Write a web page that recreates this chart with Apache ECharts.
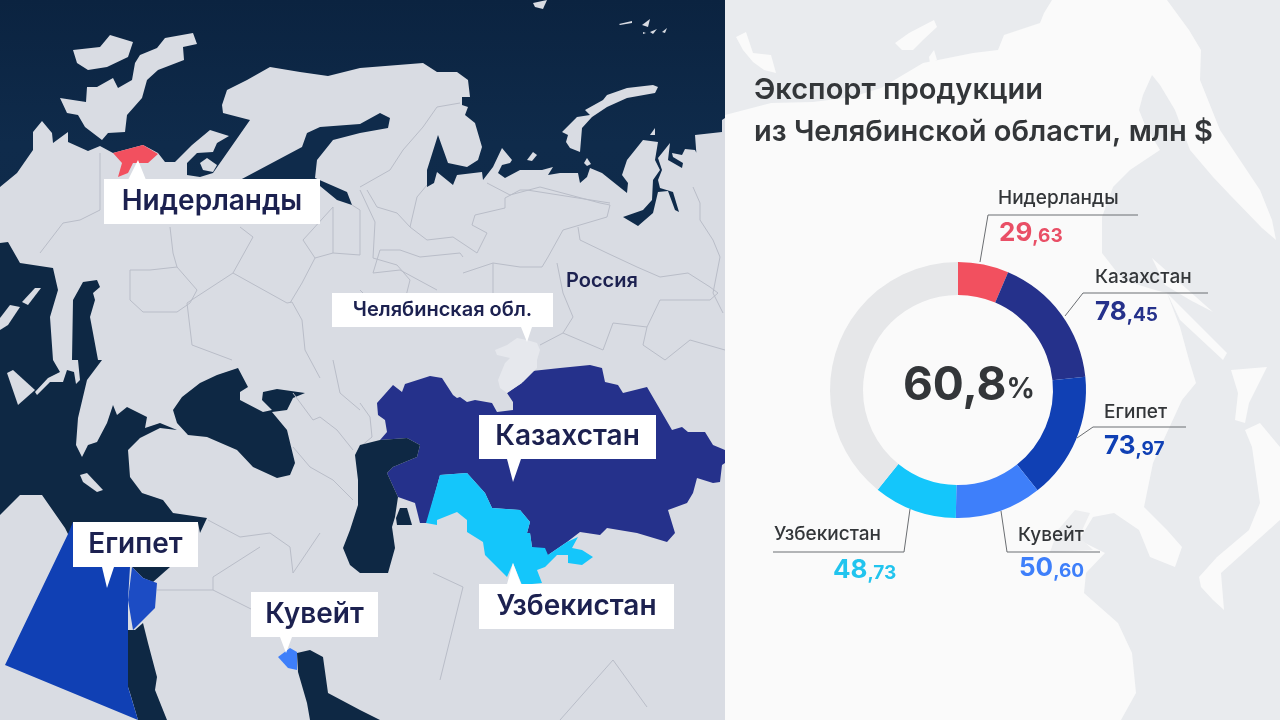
<!DOCTYPE html>
<html>
<head>
<meta charset="utf-8">
<style>html,body{margin:0;padding:0;background:#fafafa}#chart{width:1280px;height:720px}</style>
<script src="https://cdn.jsdelivr.net/npm/echarts@6/dist/echarts.min.js"></script>
</head>
<body>
<div id="chart"></div>
<script>
// значения диаграммы
var countries = ['Нидерланды', 'Казахстан', 'Египет', 'Кувейт', 'Узбекистан'];
var exportValues = [29.63, 78.45, 73.97, 50.60, 48.73];
var restValue = 181.42;
var shareText = '60,8';
var sliceColors = ['#f2505f', '#25318b', '#1040b4', '#3e7ffa', '#14c6fb'];
var valueColors = ['#e94f66', '#25318b', '#1040b4', '#3e7ffa', '#21c4ee'];

var FONT = 'Inter, "Noto Sans", sans-serif';
var SEA = '#0f2b4b', LAND = '#d9dce3', EDGE = '#b9bdc8', INK = '#1c2150', GREY = '#333639';

// подпись и выноска для каждого сегмента: [x, y] подписи, [x, y] значения, линия
var callouts = [
  { name: [998, 198], value: [999, 233], line: [[980, 262], [988, 215], [1138, 215]] },
  { name: [1095, 277], value: [1095, 312], line: [[1065, 316], [1083, 293], [1208, 293]] },
  { name: [1104, 412], value: [1104, 446], line: [[1077, 438], [1093, 427], [1186, 427]] },
  { name: [1018, 535], value: [1019, 568], line: [[1001, 511], [1007, 552], [1100, 552]] },
  { name: [774, 534], value: [833, 570], line: [[910, 509], [904, 552], [773, 552]] }
];

var els = [];
function poly(points, fill) {
  els.push({ type: 'polygon', silent: true, shape: { points: points }, style: { fill: fill } });
}
function border(points, color) {
  els.push({ type: 'polyline', silent: true, shape: { points: points },
    style: { stroke: color || EDGE, lineWidth: 1, fill: null } });
}
function rect(x, y, w, h, fill) {
  els.push({ type: 'rect', silent: true, shape: { x: x, y: y, width: w, height: h }, style: { fill: fill } });
}
function text(str, x, y, size, weight, color, align) {
  els.push({ type: 'text', silent: true, x: x, y: y, style: { text: str, fill: color, font: weight + ' ' + size + 'px ' + FONT,
    textAlign: align || 'left', textVerticalAlign: 'middle' } });
}
function tag(str, x, y, w, h, size, pointer) {
  rect(x, y, w, h, '#ffffff');
  poly(pointer, '#ffffff');
  text(str, x + w / 2, y + h / 2, size, 600, INK, 'center');
}

// правая панель: светлая подложка карты
rect(725, 0, 555, 720, '#e9ebee');
poly([[725,115],[771,103],[813,102],[852,97],[881,88],[923,63],[973,53],[998,50],[1004,35],[1040,23],[1044,13],[1052,0],[1167,0],[1189,30],[1201,50],[1200,80],[1220,130],[1260,190],[1272,220],[1276,240],[1262,228],[1230,195],[1213,177],[1190,150],[1175,110],[1160,85],[1152,75],[1143,95],[1139,110],[1145,125],[1160,150],[1130,170],[1113,187],[1102,217],[1102,253],[1123,280],[1155,290],[1167,293],[1180,327],[1189,360],[1196,383],[1182,400],[1153,463],[1144,507],[1167,530],[1182,547],[1175,567],[1150,557],[1139,530],[1114,513],[1093,517],[1079,540],[1105,553],[1086,573],[1084,593],[1118,623],[1132,653],[1136,693],[1121,720],[725,720]], '#fafafa');
poly([[1075,510],[1090,513],[1079,537],[1093,550],[1050,552],[1058,530]], '#edeef0');
poly([[1152,258],[1213,312],[1190,300],[1165,285]], '#fafafa');
poly([[1167,293],[1227,353],[1223,360],[1180,320]], '#fafafa');
poly([[1231,370],[1267,367],[1249,403],[1245,423],[1235,420],[1238,393]], '#fafafa');
poly([[1199,577],[1217,557],[1249,530],[1260,503],[1252,447],[1245,430],[1260,423],[1280,447],[1280,520],[1221,573],[1224,610],[1213,600],[1201,587]], '#fafafa');
poly([[736,37],[746,32],[753,53],[771,55],[776,73],[764,70],[753,62],[743,50]], '#fafafa');
poly([[895,43],[909,33],[934,20],[937,27],[923,40],[913,50],[902,50]], '#fafafa');
poly([[929,57],[934,50],[937,60],[930,63]], '#fafafa');

// левая панель: море и суша
els.push({ type: 'rect', silent: true, shape: { x: 0, y: 0, width: 725, height: 720 }, style: {
  fill: new echarts.graphic.LinearGradient(0, 0, 0, 1, [
    { offset: 0, color: '#0b2340' }, { offset: 0.2, color: SEA }, { offset: 1, color: '#0e2743' }]) } });
poly([[0,187],[17,173],[33,150],[33,132],[42,121],[52,133],[53,143],[68,132],[68,142],[88,151],[100,146],[113,153],[143,145],[158,153],[165,162],[175,162],[192,145],[210,130],[229,136],[217,143],[213,152],[197,153],[187,163],[187,175],[200,177],[213,173],[250,120],[223,113],[222,105],[227,90],[247,80],[270,67],[300,72],[328,76],[360,68],[423,63],[437,72],[457,72],[468,80],[470,97],[462,97],[462,105],[468,107],[465,115],[475,123],[482,147],[478,160],[467,167],[448,163],[438,135],[427,170],[427,187],[434,183],[437,172],[453,185],[457,175],[482,172],[483,180],[493,167],[502,148],[512,160],[510,163],[502,165],[498,173],[505,178],[520,170],[542,170],[553,167],[548,175],[560,173],[578,173],[580,183],[587,177],[590,168],[602,173],[627,193],[628,183],[622,175],[627,160],[643,140],[658,142],[655,160],[660,170],[653,180],[652,200],[643,210],[623,217],[638,226],[653,213],[658,192],[668,191],[675,210],[679,212],[673,192],[660,188],[658,180],[662,170],[658,158],[670,143],[668,160],[682,168],[683,163],[673,157],[672,153],[682,155],[685,149],[695,150],[700,160],[703,177],[698,175],[695,135],[722,132],[722,120],[725,118],[725,720],[0,720]], LAND);

// внутренние моря
poly([[302,147],[307,133],[320,127],[360,124],[380,113],[390,118],[388,128],[360,133],[333,140],[317,160],[315,178],[347,192],[352,205],[337,200],[320,186],[300,200],[240,180]], SEA);
poly([[0,243],[8,242],[20,263],[53,268],[58,290],[50,317],[53,360],[72,360],[73,300],[83,282],[97,280],[100,287],[93,293],[95,300],[90,317],[93,333],[98,360],[102,360],[87,380],[78,418],[76,445],[82,457],[88,445],[97,442],[107,423],[113,405],[117,415],[127,407],[147,417],[145,428],[160,423],[177,430],[160,428],[140,438],[128,450],[130,477],[142,493],[163,500],[173,513],[207,518],[200,533],[198,523],[198,567],[130,567],[68,534],[65,528],[42,495],[20,495],[0,515]], '#0e2844');
poly([[53,360],[78,360],[80,380],[76,384],[74,372],[67,370],[63,382],[50,382],[37,395],[35,392],[48,378],[60,372]], LAND);
poly([[7,373],[13,370],[35,390],[18,405]], LAND);
poly([[80,475],[87,473],[103,490],[97,492],[83,482]], LAND);
poly([[22,302],[35,288],[41,288],[28,305]], LAND);
poly([[0,318],[10,305],[20,307],[8,325],[0,330]], LAND);
poly([[173,410],[182,397],[200,383],[217,375],[238,368],[248,387],[240,392],[240,400],[263,412],[272,410],[262,400],[263,392],[277,389],[305,393],[293,398],[287,410],[272,412],[287,430],[295,463],[290,475],[277,478],[253,467],[237,450],[207,437],[188,435],[177,423]], '#0e2844');
poly([[132,567],[170,567],[153,582],[143,578]], '#0e2844');
poly([[128,630],[135,630],[143,623],[148,643],[157,677],[155,690],[167,720],[138,720],[130,693],[128,687]], '#0e2844');
poly([[297,653],[310,650],[323,657],[328,693],[360,710],[380,720],[310,720],[307,703],[298,672]], '#0e2844');

// острова
poly([[73,50],[100,47],[110,35],[133,42],[128,57],[107,67],[88,70],[77,63]], LAND);
poly([[60,98],[86,102],[87,87],[97,87],[113,78],[118,88],[132,80],[135,63],[140,55],[157,48],[165,38],[193,33],[197,44],[183,47],[184,60],[158,70],[147,80],[142,98],[127,115],[125,132],[108,133],[102,140],[85,127],[78,115],[67,113]], LAND);
poly([[200,163],[207,158],[217,165],[213,172],[203,170]], LAND);
poly([[562,132],[577,117],[590,115],[585,110],[603,100],[607,95],[627,88],[653,85],[658,87],[655,93],[627,98],[607,107],[592,117],[582,128],[580,152],[570,148],[566,142],[568,135]], LAND);
poly([[533,3],[547,0],[543,9],[535,7]], LAND);
poly([[619,24],[632,21],[632,23],[620,25]], LAND);
poly([[642,25],[650,19],[648,27]], LAND);
poly([[643,32],[646,33],[643,34]], LAND);
poly([[650,32],[657,29],[653,34]], LAND);
poly([[662,32],[667,28],[665,33]], LAND);
poly([[527,160],[533,152],[537,155],[532,161]], LAND);
poly([[584,163],[587,158],[591,164],[587,166]], LAND);
poly([[650,135],[655,128],[655,135]], LAND);

// границы регионов
[
  [[100,153],[100,210],[80,220],[63,223],[40,253]],
  [[170,227],[173,253],[177,267],[197,290],[190,303],[177,312],[143,312],[130,300],[130,270],[150,270],[177,267]],
  [[240,227],[253,237],[233,273],[187,303],[192,345],[232,360]],
  [[233,273],[287,303],[292,302],[302,320],[305,350],[320,378]],
  [[290,303],[302,283],[315,258],[303,240],[333,207],[333,253],[315,258]],
  [[333,253],[360,255],[360,210],[352,205]],
  [[360,190],[375,222],[373,258],[397,265],[410,280],[405,300],[375,305],[360,290]],
  [[360,187],[390,170],[403,150],[423,127],[437,107],[460,103]],
  [[367,190],[377,207],[397,213],[410,227],[417,197],[427,185]],
  [[410,227],[427,240],[453,237],[477,253],[487,233],[472,225],[475,215],[505,208],[505,198],[520,190],[527,190],[610,203]],
  [[487,183],[510,195],[540,187],[600,203],[610,205],[607,217],[563,230],[548,257],[542,267],[520,267],[493,263],[493,293]],
  [[463,257],[460,253],[420,257],[400,250],[380,250],[373,273],[400,270],[437,290]],
  [[463,273],[493,263]],
  [[578,227],[580,240],[607,253],[637,267],[660,277],[688,273],[710,287],[718,293],[710,300],[660,300],[647,327],[613,323],[603,350],[563,333],[573,317],[563,293],[557,263]],
  [[693,187],[700,203],[700,220],[713,240],[720,257],[713,293],[723,313]],
  [[540,345],[563,333]],
  [[647,327],[643,345],[665,360],[690,340],[725,350]],
  [[293,447],[310,467],[333,480],[353,500]],
  [[293,393],[313,420],[320,417],[337,430],[353,450]],
  [[333,360],[340,393],[360,410]],
  [[208,520],[240,537],[270,533],[290,547],[293,573],[320,533]],
  [[213,590],[213,577],[260,547]],
  [[213,590],[253,610]],
  [[157,590],[213,590]],
  [[360,403],[370,417],[372,437],[360,447]],
  [[440,680],[463,587],[433,573]],
  [[560,720],[613,660],[647,707]]
].forEach(function (p) { border(p); });

// выделенные страны
poly([[113,153],[143,145],[158,154],[148,163],[133,163],[128,173],[118,177],[122,163]], sliceColors[0]);
poly([[377,403],[393,385],[402,392],[405,384],[430,376],[442,378],[453,395],[457,398],[460,397],[467,402],[475,400],[492,403],[497,412],[513,410],[513,402],[507,393],[522,383],[523,372],[560,368],[590,365],[602,368],[605,382],[618,385],[623,393],[647,387],[672,430],[682,427],[688,432],[705,432],[713,445],[725,450],[725,463],[722,465],[720,482],[713,483],[697,478],[693,493],[687,503],[668,510],[675,533],[667,542],[637,533],[607,528],[600,535],[580,532],[567,542],[548,555],[545,555],[532,547],[530,533],[527,533],[530,522],[520,510],[492,508],[485,493],[467,473],[440,475],[427,523],[420,523],[415,503],[398,497],[387,473],[393,467],[417,457],[420,445],[407,438],[380,440],[387,432],[385,420],[378,415]], sliceColors[1]);
poly([[440,475],[467,473],[485,493],[492,508],[520,510],[530,522],[527,533],[530,533],[532,547],[545,548],[548,555],[567,542],[578,537],[572,548],[582,550],[593,557],[582,565],[568,563],[568,555],[557,555],[545,567],[537,570],[542,583],[522,585],[513,563],[507,577],[485,555],[483,542],[467,532],[467,520],[457,512],[437,520],[437,525],[426,523]], sliceColors[4]);
poly([[396,518],[400,508],[407,508],[412,525],[397,525]], '#0e2844');
poly([[360,445],[380,440],[407,438],[420,445],[417,457],[393,467],[387,473],[398,497],[395,517],[392,527],[395,548],[388,573],[360,573],[350,565],[343,548],[350,530],[358,505],[358,480],[355,455]], '#0e2844');
poly([[68,534],[73,522],[130,567],[128,600],[128,687],[138,720],[5,665]], sliceColors[2]);
poly([[132,567],[143,578],[157,583],[155,608],[133,630],[128,600]], '#1c4cc4');
poly([[278,657],[290,648],[297,652],[297,670],[288,668]], sliceColors[3]);
poly([[495,350],[507,345],[517,338],[527,340],[537,343],[540,350],[537,360],[537,368],[523,382],[507,393],[500,388],[498,380],[505,363],[510,358],[497,355]], '#e6e8ed');

// плашки на карте
tag('Нидерланды', 104, 179, 216, 45, 28, [[128,180],[146,180],[138,160]]);
tag('Египет', 73, 522, 125, 45, 28, [[102,567],[114,567],[107,588]]);
tag('Кувейт', 251, 592, 127, 45, 28, [[280,637],[292,637],[286,653]]);
tag('Казахстан', 479, 415, 177, 44, 28, [[507,459],[521,459],[513,482]]);
tag('Узбекистан', 479, 584, 195, 45, 28, [[507,584],[521,584],[513,563]]);
tag('Челябинская обл.', 332, 293, 221, 34, 20, [[521,327],[532,327],[527,342]]);
text('Россия', 566, 281, 20, 600, INK);

// подписи сегментов
countries.forEach(function (name, i) {
  var c = callouts[i];
  var parts = exportValues[i].toFixed(2).split('.');
  border(c.line, '#6b6e72');
  text(name, c.name[0], c.name[1], 19, 500, GREY);
  els.push({ type: 'text', silent: true, x: c.value[0], y: c.value[1], style: {
    text: '{a|' + parts[0] + '}{b|,' + parts[1] + '}', textVerticalAlign: 'middle', fill: valueColors[i],
    rich: {
      a: { font: '700 26px ' + FONT, fill: valueColors[i] },
      b: { font: '700 19px ' + FONT, fill: valueColors[i], verticalAlign: 'bottom', padding: [5, 0, 0, 0] }
    } } });
});

// центр кольца
els.push({ type: 'text', silent: true, x: 903, y: 386, style: {
  text: '{a|' + shareText + '}{b|%}', textVerticalAlign: 'middle', fill: GREY,
  rich: {
    a: { font: '700 46px ' + FONT, fill: GREY },
    b: { font: '700 28px ' + FONT, fill: GREY, padding: [8, 0, 0, 0] }
  } } });

var pieData = countries.map(function (name, i) {
  return { name: name, value: exportValues[i], itemStyle: { color: sliceColors[i] } };
});
pieData.push({ name: 'Другие', value: restValue, itemStyle: { color: '#e6e7e9' } });

var chart = echarts.init(document.getElementById('chart'));
chart.setOption({
  animation: false,
  title: {
    text: 'Экспорт продукции\nиз Челябинской области, млн $',
    left: 749, top: 64,
    textStyle: { color: GREY, fontFamily: FONT, fontWeight: 600, fontSize: 29, lineHeight: 42 }
  },
  graphic: { elements: els },
  series: [{
    type: 'pie',
    center: [958, 390],
    radius: [95, 128],
    startAngle: 90,
    silent: true,
    label: { show: false },
    labelLine: { show: false },
    data: pieData
  }]
});
</script>
</body>
</html>
